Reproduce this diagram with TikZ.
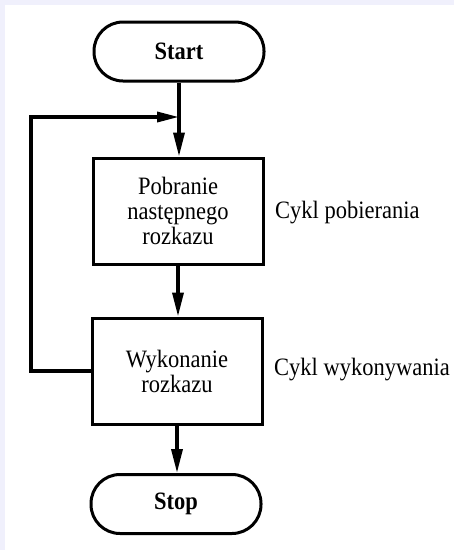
\documentclass[tikz,border=0pt]{standalone}
\usepackage{fontspec}
\setmainfont{Liberation Serif}[FakeStretch=0.9]
\usetikzlibrary{arrows.meta}
\definecolor{framebg}{RGB}{240,240,252}
\begin{document}
\begin{tikzpicture}[x=1pt,y=-1pt,
  every node/.style={font=\fontsize{25}{25}\selectfont},
  terminal/.style={draw,line width=3pt,rounded corners=29pt,
    minimum width=170pt,minimum height=59pt,inner sep=0pt,font=\fontsize{25}{25}\selectfont\bfseries},
  procbox/.style={draw,line width=3pt,minimum width=170pt,minimum height=106pt,
    inner sep=0pt,align=center},
  flow/.style={line width=3.4pt,line join=miter,
    -{Triangle[length=24pt,width=11pt]}},
  note/.style={anchor=west,inner sep=0pt}]
  % page frame
  \fill[framebg] (0,0) rectangle (454,550);
  \fill[white] (5,5) rectangle (454,550);
  \useasboundingbox (0,0) rectangle (454,550);

  \node[terminal] (start) at (179,51.5) {Start};
  \node[procbox] (fetch) at (178,211) {Pobranie\\następnego\\rozkazu};
  \node[procbox] (exec) at (177,371) {Wykonanie\\rozkazu};
  \node[terminal] (stop) at (176,504) {Stop};

  \node[note] (lfetch) at (275,213) {Cykl pobierania};
  \node[note] (lexec) at (274,370) {Cykl wykonywania};

  \coordinate (corner) at (31,117);
  \coordinate (join) at (179,117);

  \draw[flow] (start.south) -- (start.south |- fetch.north);
  \draw[flow] (fetch.south) -- (fetch.south |- exec.north);
  \draw[flow] (exec.south) -- (exec.south |- stop.north);
  \draw[line width=3.4pt,line join=miter,-{Triangle[length=22pt,width=10pt]}]
    (exec.west) -| (corner) -- (join);
\end{tikzpicture}
\end{document}
